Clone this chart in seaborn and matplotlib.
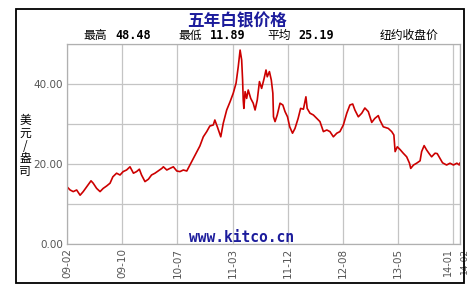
import matplotlib
matplotlib.use("Agg")
import matplotlib.pyplot as plt
import seaborn as sns
import pandas as pd
from matplotlib.patches import Rectangle

# ---- data (trading-day index, USD/oz) ----
days = [0, 10, 20, 31, 42, 52, 63, 77, 84, 95, 106, 116, 127, 138, 147, 159, 170, 180,
        191, 202, 213, 223, 232, 239, 250, 261, 271, 282, 293, 304, 309, 320, 330, 341,
        352, 362, 373, 384, 394, 405, 416, 426, 437, 448, 458, 469, 474, 482, 493, 501,
        512, 523, 533, 542, 549, 555, 560, 563, 565, 567, 571, 576, 581, 589, 597, 603,
        610, 617, 624, 632, 638, 642, 649, 655, 660, 662, 667, 674, 683, 692, 699, 707,
        714, 723, 731, 741, 749, 758, 766, 770, 779, 790, 801, 811, 822, 833, 843, 854,
        865, 875, 886, 897, 907, 916, 923, 934, 945, 955, 966, 977, 987, 998, 1003, 1014,
        1030, 1041, 1048, 1052, 1059, 1068, 1078, 1089, 1098, 1102, 1111, 1121, 1132,
        1137, 1145, 1153, 1162, 1169, 1180, 1187, 1196, 1204, 1217, 1228, 1239, 1250,
        1258, 1260]
prices = [14.3, 13.5, 13.1, 13.5, 12.2, 13.1, 14.3, 15.8, 15.2, 13.9, 13.1, 13.9, 14.5,
          15.2, 16.8, 17.7, 17.25, 18.1, 18.5, 19.3, 17.7, 18.1, 18.7, 17.25, 15.6, 16.2,
          17.25, 17.7, 18.3, 18.9, 19.3, 18.5, 18.9, 19.3, 18.25, 18.1, 18.5, 18.25, 19.75,
          21.4, 23.1, 24.5, 26.8, 28.1, 29.5, 29.75, 31.0, 29.3, 26.8, 30.2, 33.5, 35.6,
          37.7, 40.2, 44.3, 48.48, 46.0, 41.0, 36.0, 33.9, 38.1, 36.4, 38.5, 36.4, 35.2,
          33.5, 36.0, 40.6, 38.9, 41.4, 43.5, 41.8, 43.1, 41.0, 37.7, 31.8, 30.6, 32.25,
          35.2, 34.75, 33.1, 31.8, 29.3, 27.7, 28.9, 31.4, 33.9, 33.7, 36.8, 33.9, 32.7,
          32.25, 31.4, 30.6, 28.1, 28.5, 28.1, 26.8, 27.7, 28.1, 29.75, 32.7, 34.75, 35.0,
          33.5, 31.8, 32.7, 34.0, 33.1, 30.4, 31.4, 32.1, 31.0, 29.3, 28.9, 28.1, 27.25,
          23.1, 24.3, 23.6, 22.7, 21.8, 20.2, 18.9, 19.75, 20.2, 20.8, 23.1, 24.6, 23.5,
          22.5, 21.8, 22.7, 22.6, 21.4, 20.3, 19.75, 20.2, 19.75, 20.2, 19.75, 20.3]
tick_days = [0, 177, 354, 531, 708, 885, 1062, 1239, 1260]
tick_labels = ["09-02", "09-10", "10-07", "11-03", "11-12", "12-08", "13-05", "14-01", "14-02"]
y_ticks = [0, 10, 20, 30, 40, 50]
y_labels = ["0.00", "", "20.00", "", "40.00", ""]
title = "五年白银价格"
stats = [("最高", "48.48"), ("最低", "11.89"), ("平均", "25.19")]
source_note = "纽约收盘价"
unit_label = "美\n元\n/\n盎\n司"
watermark = "www.kitco.cn"

df = pd.DataFrame({"day": days, "price": prices})

sns.set_style("white")
plt.rcParams["font.family"] = ["Noto Sans CJK SC", "DejaVu Sans"]

W, H = 472, 288
fig = plt.figure(figsize=(W / 100, H / 100), dpi=100)
fig.patch.set_facecolor("white")

def fx(px):
    return px / W

def fy(py):
    return 1 - py / H

ax = fig.add_axes([fx(67), fy(244), fx(460) - fx(67), fy(44) - fy(244)])
sns.lineplot(data=df, x="day", y="price", ax=ax, color="#cc0000", linewidth=1.2)

ax.set_xlim(0, 1260)
ax.set_ylim(0, 50)
ax.set_xticks(tick_days)
ax.set_xticklabels(tick_labels, rotation=90, fontsize=7.5, color="#555555",
                   family="DejaVu Sans", va="top")
tl = ax.get_xticklabels()
tl[-2].set_horizontalalignment("right")
tl[-2].set_fontsize(7)
tl[-1].set_horizontalalignment("left")
tl[-1].set_fontsize(6.5)
ax.set_yticks(y_ticks)
ax.set_yticklabels(y_labels, fontsize=7.5, color="#555555", family="DejaVu Sans")
ax.tick_params(axis="both", length=0, pad=3)
ax.grid(True, color="#c4c4c4", linewidth=0.9)
for s in ax.spines.values():
    s.set_color("#b0b0b0")
    s.set_linewidth(0.9)
ax.set_xlabel("")
ax.set_ylabel("")

# outer border
fig.patches.append(Rectangle((fx(16), fy(283)), fx(464) - fx(16), fy(9) - fy(283),
                             transform=fig.transFigure, fill=False,
                             edgecolor="black", linewidth=1.3))

fig.text(fx(237), fy(21), title, ha="center", va="center", fontsize=12,
         fontweight="bold", color="#1c1c9c")

label_x = [83, 178, 267]
num_x = [115, 210, 298]
for (lab, num), lx, nx in zip(stats, label_x, num_x):
    fig.text(fx(lx), fy(35.5), lab, ha="left", va="center", fontsize=8.5, color="black")
    fig.text(fx(nx), fy(35.5), num, ha="left", va="center", fontsize=8.5,
             fontweight="bold", color="black", family="DejaVu Sans Mono")
fig.text(fx(380), fy(35.5), source_note, ha="left", va="center", fontsize=8.5, color="black")

fig.text(fx(25), fy(146), unit_label, ha="center", va="center", fontsize=8.5,
         color="black", linespacing=0.95)

fig.text(fx(242), fy(237), watermark, ha="center", va="center", fontsize=10.5,
         fontweight="bold", color="#1c1c9c", family="DejaVu Sans Mono")

fig.savefig("out.png", dpi=100)
